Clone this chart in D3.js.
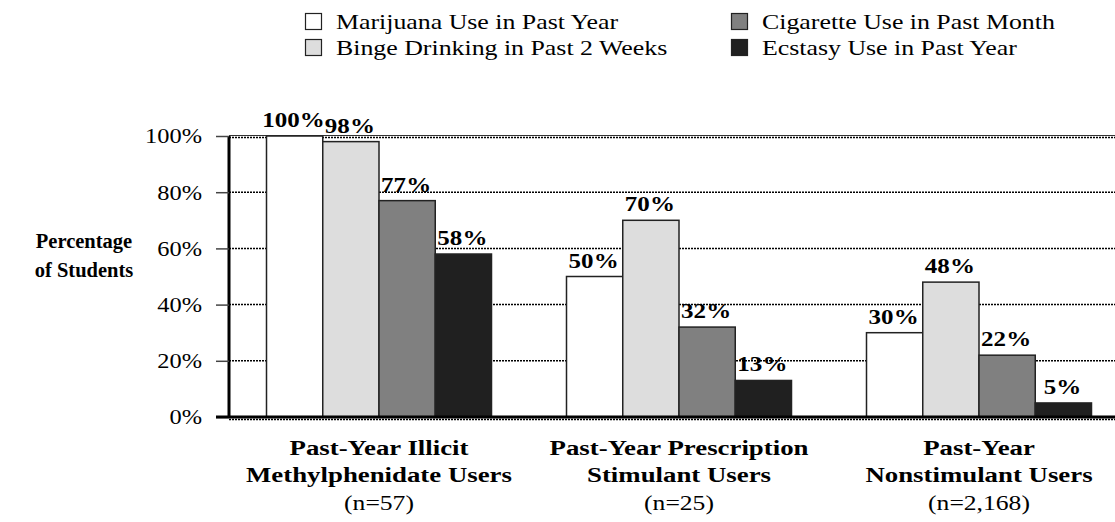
<!DOCTYPE html>
<html>
<head>
<meta charset="utf-8">
<script src="https://cdn.jsdelivr.net/npm/d3@7"></script>
<style>
  html, body { margin: 0; padding: 0; background: #fff; }
  svg, svg text { font-family: "Liberation Serif", "Times New Roman", Times, Tinos, "DejaVu Serif", serif; }
</style>
</head>
<body>
<svg id="chart" width="1115" height="522"></svg>
<script>
const groups = ["Past-Year Illicit|Methylphenidate Users", "Past-Year Prescription|Stimulant Users", "Past-Year|Nonstimulant Users"];
const groupN = ["(n=57)", "(n=25)", "(n=2,168)"];
const series = ["Marijuana Use in Past Year", "Binge Drinking in Past 2 Weeks", "Cigarette Use in Past Month", "Ecstasy Use in Past Year"];
const marijuana = [100, 50, 30];
const binge = [98, 70, 48];
const cigarette = [77, 32, 22];
const ecstasy = [58, 13, 5];
const yTicks = [0, 20, 40, 60, 80, 100];
const colors = ["#ffffff", "#dddddd", "#808080", "#202020"];

const values = [marijuana, binge, cigarette, ecstasy];
const FONT = "'Liberation Serif', 'Times New Roman', Times, Tinos, 'DejaVu Serif', serif";
const SX = 1.22; // horizontal stretch of the reference's lettering
const svg = d3.select("#chart").attr("font-family", FONT);

function label(parent, x, yy, txt, size, weight, anchor, sx) {
  return parent.append("text")
    .attr("transform", `translate(${x},${yy}) scale(${sx || SX},1)`)
    .attr("text-anchor", anchor || "middle")
    .attr("font-size", size).attr("font-weight", weight || "normal")
    .attr("fill", "#000").text(txt);
}

const pLeft = 229, pRight = 1129, pTop = 136, pBottom = 417;
const x0 = d3.scaleBand().domain(groups).range([pLeft, pRight]).paddingInner(0.25).paddingOuter(0.125);
const x1 = d3.scaleBand().domain(series).range([0, x0.bandwidth()]);
const y = d3.scaleLinear().domain([0, 100]).range([pBottom, pTop]);

// gridlines (dotted)
svg.append("g").selectAll("line").data(yTicks.filter(d => d > 0)).join("line")
  .attr("x1", pLeft).attr("x2", 1115)
  .attr("y1", d => y(d) + (d === 100 ? 1.5 : 0)).attr("y2", d => y(d) + (d === 100 ? 1.5 : 0))
  .attr("stroke", "#000").attr("stroke-width", 1.5).attr("stroke-dasharray", "2,1");
// top solid line
svg.append("line").attr("x1", pLeft).attr("x2", 1115).attr("y1", y(100) - 0.5).attr("y2", y(100) - 0.5)
  .attr("stroke", "#333").attr("stroke-width", 1);
// bottom dotted under axis
svg.append("line").attr("x1", pLeft).attr("x2", 1115).attr("y1", y(0) + 2.5).attr("y2", y(0) + 2.5)
  .attr("stroke", "#000").attr("stroke-width", 1.5).attr("stroke-dasharray", "2,1");

// bars
const gGroups = svg.append("g").selectAll("g").data(groups).join("g")
  .attr("transform", d => `translate(${x0(d)},0)`);
const barData = (g, gi) => series.map((s, si) => ({ s, si, v: values[si][gi] }));
gGroups.selectAll("rect").data(barData).join("rect")
  .attr("x", d => x1(d.s)).attr("width", x1.bandwidth())
  .attr("y", d => y(d.v)).attr("height", d => y(0) - y(d.v))
  .attr("fill", d => colors[d.si]).attr("stroke", "#222").attr("stroke-width", 1.5);
gGroups.each(function (g, gi) {
  const sel = d3.select(this);
  barData(g, gi).forEach(d => label(sel, x1(d.s) + x1.bandwidth() / 2 - 1, y(d.v) - 9, d.v + "%", 20.5, "bold"));
});

// y axis
const yAxis = d3.axisLeft(y).tickValues(yTicks).tickFormat(d => d + "%").tickSize(13).tickPadding(14);
const ya = svg.append("g").attr("transform", `translate(${pLeft},0)`).call(yAxis).attr("font-family", FONT);
ya.select(".domain").attr("stroke", "#000").attr("stroke-width", 3).attr("d", `M0,${pTop}V${pBottom}`);
ya.selectAll(".tick line").attr("stroke", "#444").attr("stroke-width", 1.5);
ya.selectAll(".tick text").attr("font-size", 20).attr("fill", "#000")
  .attr("x", null).attr("dy", "0.34em")
  .attr("transform", `translate(-27,0) scale(${SX},1)`);

// x baseline
svg.append("line").attr("x1", pLeft - 13).attr("x2", 1115).attr("y1", y(0)).attr("y2", y(0))
  .attr("stroke", "#000").attr("stroke-width", 3);

// y title
label(svg, 84, 248, "Percentage", 20.5, "bold", "middle", 1);
label(svg, 84, 277, "of Students", 20.5, "bold", "middle", 1);

// x category labels
groups.forEach((g, i) => {
  const cx = x0(g) + x0.bandwidth() / 2;
  g.split("|").forEach((l, li) => label(svg, cx, 455 + li * 27, l, 22, "bold"));
  label(svg, cx, 510, groupN[i], 21, "normal");
});

// legend
const legPos = [[305, 13], [305, 39], [731, 13], [731, 39]];
const leg = svg.append("g").selectAll("g").data(series).join("g")
  .attr("transform", (d, i) => `translate(${legPos[i][0]},${legPos[i][1]})`);
leg.append("rect").attr("width", 16).attr("height", 16).attr("x", 0.5).attr("y", 0.5)
  .attr("fill", (d, i) => colors[i]).attr("stroke", "#222").attr("stroke-width", 1.2);
leg.each(function (d) { label(d3.select(this), 31, 16, d, 21.2, "normal", "start"); });
</script>
</body>
</html>
